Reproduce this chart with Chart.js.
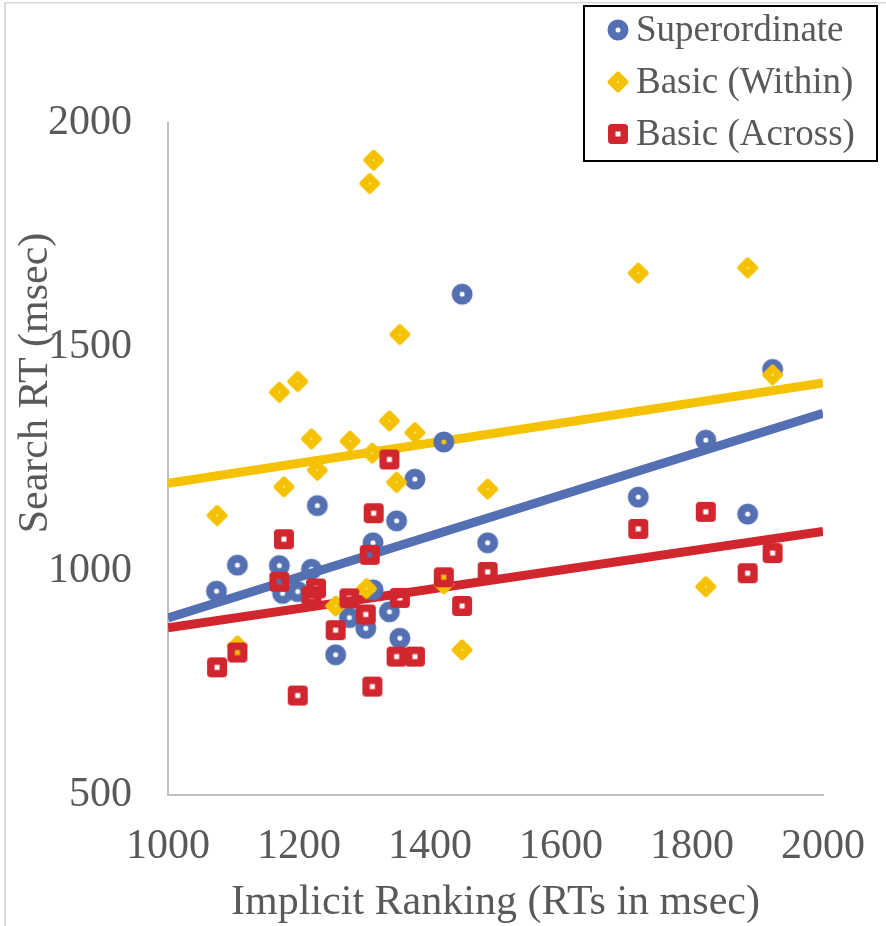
<!DOCTYPE html>
<html>
<head>
<meta charset="utf-8">
<script src="https://cdn.jsdelivr.net/npm/chart.js@4.4.1/dist/chart.umd.min.js"></script>
<style>
    html, body { margin: 0; padding: 0; background: #fff; }
    #wrap { position: relative; width: 886px; height: 926px; }
</style>
</head>
<body>
<div id="wrap"><canvas id="scatterChart"></canvas></div>
<script>
// values
const trendX = [1000, 2000];

const supX = [1074, 1106, 1170, 1175, 1198, 1219, 1228, 1256, 1277, 1302, 1313, 1313, 1338, 1349, 1354, 1377, 1421, 1449, 1488, 1718, 1821, 1885, 1923];
const supY = [955, 1013, 1012, 950, 954, 1004, 1146, 813, 896, 872, 1063, 958, 909, 1112, 850, 1205, 1288, 1618, 1063, 1165, 1292, 1127, 1450];
const supTrend = [895, 1352];

const withinX = [1075, 1106, 1170, 1177, 1198, 1219, 1228, 1256, 1278, 1303, 1308, 1314, 1312, 1338, 1349, 1354, 1377, 1421, 1449, 1488, 1718, 1821, 1885, 1923];
const withinY = [1124, 833, 1399, 1188, 1423, 1295, 1225, 922, 1290, 961, 1865, 1917, 1263, 1335, 1198, 1528, 1309, 971, 824, 1183, 1665, 965, 1677, 1438];
const withinTrend = [1196, 1420];

const acrossX = [1075, 1106, 1170, 1177, 1198, 1219, 1226, 1256, 1277, 1302, 1308, 1314, 1312, 1338, 1349, 1354, 1377, 1421, 1449, 1488, 1718, 1821, 1885, 1923];
const acrossY = [785, 818, 976, 1071, 722, 944, 961, 868, 939, 903, 1036, 1129, 742, 1249, 809, 940, 809, 986, 922, 998, 1094, 1132, 995, 1040];
const acrossTrend = [873, 1088];

const labels = ['Superordinate', 'Basic (Within)', 'Basic (Across)'];

const BLUE = '#5470b3';
const GOLD = '#f4c200';
const RED = '#d2262f';
const TEXT = '#595959';
const FONT = "'Liberation Serif', 'Times New Roman', serif";

const toPoints = (xs, ys) => xs.map((x, i) => ({ x: x, y: ys[i] }));

// marker pictures (Excel style: ring, rounded diamond, rounded square)
const makeRing = (color) => {
    const c = document.createElement('canvas');
    c.width = 24; c.height = 24;
    const g = c.getContext('2d');
    g.strokeStyle = color;
    g.lineWidth = 8;
    g.beginPath();
    g.arc(12, 12, 6.5, 0, Math.PI * 2);
    g.stroke();
    return c;
};

const makeDiamond = (color) => {
    const c = document.createElement('canvas');
    c.width = 24; c.height = 24;
    const g = c.getContext('2d');
    g.fillStyle = color;
    g.strokeStyle = color;
    g.lineWidth = 4;
    g.lineJoin = 'round';
    g.beginPath();
    g.moveTo(12, 3.5);
    g.lineTo(20.5, 12);
    g.lineTo(12, 20.5);
    g.lineTo(3.5, 12);
    g.closePath();
    g.fill();
    g.stroke();
    g.fillStyle = '#fff';
    g.fillRect(11.3, 11.3, 1.4, 1.4);
    return c;
};

const makeSquare = (color) => {
    const c = document.createElement('canvas');
    c.width = 24; c.height = 24;
    const g = c.getContext('2d');
    g.strokeStyle = color;
    g.lineWidth = 7.5;
    g.lineJoin = 'round';
    g.strokeRect(12 - 6.25, 12 - 6.25, 12.5, 12.5);
    return c;
};

const markers = [makeRing(BLUE), makeDiamond(GOLD), makeSquare(RED)];

// light frame, legend box and rotated y title
const extras = {
    id: 'extras',
    beforeDraw(chart) {
        const ctx = chart.ctx;
        ctx.save();
        ctx.fillStyle = '#fff';
        ctx.fillRect(0, 0, chart.width, chart.height);
        ctx.fillStyle = '#d9d9d9';
        ctx.fillRect(4, 2, 2, chart.height);
        ctx.fillRect(4, 2, chart.width, 1.5);
        ctx.restore();
    },
    afterDraw(chart) {
        const ctx = chart.ctx;
        ctx.save();
        // y axis title
        ctx.translate(36, 383);
        ctx.rotate(-Math.PI / 2);
        ctx.font = '42px ' + FONT;
        ctx.fillStyle = TEXT;
        ctx.textAlign = 'center';
        ctx.textBaseline = 'middle';
        ctx.fillText('Search RT (msec)', 0, 0);
        ctx.restore();

        // legend
        ctx.save();
        ctx.fillStyle = '#fff';
        ctx.fillRect(583, 5, 295, 157);
        ctx.strokeStyle = '#000';
        ctx.lineWidth = 2;
        ctx.strokeRect(584, 6, 293, 155);
        ctx.font = '37px ' + FONT;
        ctx.fillStyle = TEXT;
        ctx.textAlign = 'left';
        ctx.textBaseline = 'middle';
        const rows = [30, 82, 134];
        labels.forEach((txt, i) => {
            ctx.drawImage(markers[i], 618 - 12, rows[i] - 12);
            ctx.fillText(txt, 636, rows[i] + 1);
        });
        ctx.restore();
    }
};

const trendSet = (data, color) => ({
    type: 'line',
    data: toPoints(trendX, data),
    borderColor: color,
    borderWidth: 9,
    pointRadius: 0,
    fill: false,
    order: 5
});

const pointSet = (label, xs, ys, color, marker, order) => ({
    type: 'scatter',
    label: label,
    data: toPoints(xs, ys),
    pointStyle: marker,
    pointRadius: 10,
    pointHoverRadius: 10,
    backgroundColor: color,
    borderColor: color,
    order: order
});

new Chart('scatterChart', {
    type: 'scatter',
    data: {
        datasets: [
            pointSet(labels[2], acrossX, acrossY, RED, markers[2], 1),
            pointSet(labels[1], withinX, withinY, GOLD, markers[1], 2),
            pointSet(labels[0], supX, supY, BLUE, markers[0], 3),
            trendSet(acrossTrend, RED),
            trendSet(supTrend, BLUE),
            trendSet(withinTrend, GOLD)
        ]
    },
    options: {
        responsive: true,
        maintainAspectRatio: false,
        animation: false,
        events: [],
        layout: {
            padding: { left: 0, top: 123, right: 63, bottom: 0 }
        },
        plugins: {
            legend: { display: false },
            tooltip: { enabled: false }
        },
        scales: {
            x: {
                type: 'linear',
                min: 1000,
                max: 2000,
                grid: { display: false, drawTicks: false },
                border: { display: true, color: '#bfbfbf', width: 2 },
                ticks: {
                    stepSize: 200,
                    padding: 27,
                    color: TEXT,
                    font: { family: FONT, size: 42 },
                    callback: (value) => String(value)
                },
                title: {
                    display: true,
                    text: 'Implicit Ranking (RTs in msec)',
                    color: TEXT,
                    font: { family: FONT, size: 42, lineHeight: 1.1 },
                    padding: 0
                },
                afterFit: (scale) => {
                    scale.height = 131;
                    scale.paddingLeft = 0;
                    scale.paddingRight = 0;
                }
            },
            y: {
                type: 'linear',
                min: 500,
                max: 2000,
                grid: { display: false, drawTicks: false },
                border: { display: true, color: '#bfbfbf', width: 2 },
                ticks: {
                    stepSize: 500,
                    padding: 36,
                    color: TEXT,
                    font: { family: FONT, size: 42 },
                    callback: (value) => String(value)
                },
                afterFit: (scale) => {
                    scale.width = 168;
                    scale.paddingTop = 0;
                    scale.paddingBottom = 0;
                }
            }
        }
    },
    plugins: [extras]
});
</script>
</body>
</html>
